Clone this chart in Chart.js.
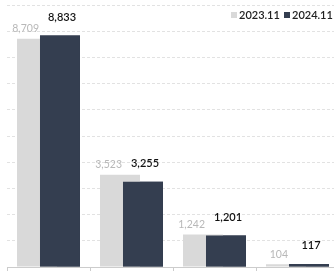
<!DOCTYPE html>
<html>
<head>
<meta charset="utf-8">
<script src="https://cdn.jsdelivr.net/npm/chart.js@4"></script>
<style>
	html, body { margin: 0; padding: 0; background: #fff; overflow: hidden; }
	.wrap { width: 334px; height: 271px; overflow: hidden; position: relative; }
	.box { width: 339px; height: 271px; position: absolute; left: 0; top: 0; }
</style>
</head>
<body>
<div class="wrap"><div class="box"><canvas id="chart"></canvas></div></div>
<script>
const categories = ['A', 'B', 'C', 'D'];
const seriesNames = ['2023.11', '2024.11'];
const values2023 = [8709, 3523, 1242, 104];
const values2024 = [8833, 3255, 1201, 117];
const colors = ['#d9d9d9', '#343e50'];
const FONT = 'Lato, "Noto Sans", sans-serif';

// chart.js draws dataset 0 on top, the reference has the right (2024) bar on top
const frontBars = {
	id: 'frontBars',
	afterDatasetsDraw(chart) {
		const area = chart.chartArea;
		const ctx = chart.ctx;
		ctx.save();
		ctx.beginPath();
		ctx.rect(area.left, area.top, area.right - area.left, area.bottom - area.top);
		ctx.clip();
		chart.getDatasetMeta(1).controller.draw();
		ctx.restore();
	}
};

const labelPlugin = {
	id: 'barLabels',
	afterDatasetsDraw(chart) {
		const ctx = chart.ctx;
		const light = chart.getDatasetMeta(0).data;
		const dark = chart.getDatasetMeta(1).data;
		ctx.save();
		ctx.textBaseline = 'middle';
		light.forEach((bar, i) => {
			const d = dark[i];
			ctx.font = '10.5px ' + FONT;
			ctx.fillStyle = '#b8b8b8';
			ctx.textAlign = 'right';
			ctx.fillText(values2023[i].toLocaleString('en-US'), d.x - d.width / 2 - 1, bar.y - 10);
			ctx.font = '600 11px ' + FONT;
			ctx.fillStyle = '#111';
			ctx.textAlign = 'center';
			ctx.fillText(values2024[i].toLocaleString('en-US'), d.x + 2, d.y - 18);
		});
		// legend
		ctx.font = '600 11px ' + FONT;
		ctx.textAlign = 'left';
		let x = 231;
		seriesNames.forEach((name, i) => {
			ctx.fillStyle = colors[i];
			ctx.fillRect(x, 12, 6, 6);
			ctx.fillStyle = '#222';
			ctx.fillText(name, x + 8, 15.5);
			x += 53;
		});
		ctx.restore();
	}
};

new Chart(document.getElementById('chart'), {
	type: 'bar',
	data: {
		labels: categories,
		datasets: [
			{ label: seriesNames[0], data: values2023, backgroundColor: colors[0], categoryPercentage: 0.554, barPercentage: 1.74 },
			{ label: seriesNames[1], data: values2024, backgroundColor: colors[1], categoryPercentage: 0.554, barPercentage: 1.74 },
		]
	},
	options: {
		responsive: true,
		maintainAspectRatio: false,
		animation: false,
		layout: { padding: { left: 7, top: 5, right: 0, bottom: 0 } },
		plugins: { legend: { display: false }, tooltip: { enabled: false } },
		scales: {
			x: {
				grid: { display: true, drawOnChartArea: false, drawTicks: true, tickLength: 4, color: '#cccccc', offset: true },
				border: { display: true, color: '#cccccc' },
				ticks: { display: false }
			},
			y: {
				min: 0,
				max: 10000,
				ticks: { display: false, stepSize: 1000 },
				border: { display: false, dash: [3, 2] },
				grid: { color: '#e2e2e2', drawTicks: false }
			}
		}
	},
	plugins: [frontBars, labelPlugin]
});
</script>
</body>
</html>
